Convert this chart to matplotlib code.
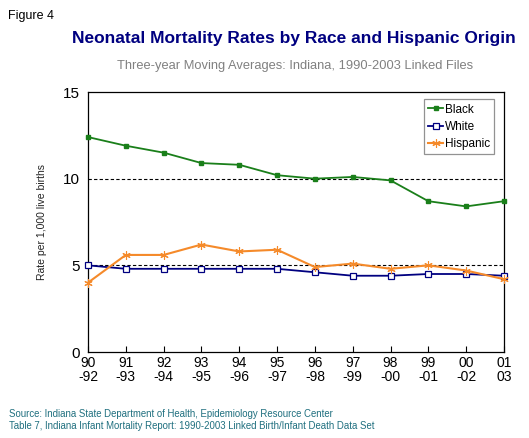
import matplotlib
matplotlib.use("Agg")
import matplotlib.pyplot as plt

# Three-year moving averages, neonatal mortality per 1,000 live births
periods = ["90\n-92", "91\n-93", "92\n-94", "93\n-95", "94\n-96", "95\n-97",
           "96\n-98", "97\n-99", "98\n-00", "99\n-01", "00\n-02", "01\n03"]
black = [12.4, 11.9, 11.5, 10.9, 10.8, 10.2, 10.0, 10.1, 9.9, 8.7, 8.4, 8.7]
white = [5.0, 4.8, 4.8, 4.8, 4.8, 4.8, 4.6, 4.4, 4.4, 4.5, 4.5, 4.4]
hispanic = [4.0, 5.6, 5.6, 6.2, 5.8, 5.9, 4.9, 5.1, 4.8, 5.0, 4.7, 4.2]
yticks = [0, 5, 10, 15]

plt.rcParams['font.family'] = ['Liberation Sans', 'DejaVu Sans']

fig = plt.figure(figsize=(5.29, 4.38), dpi=100)
ax = fig.add_axes([88 / 529, 86 / 438, 416 / 529, 260 / 438])

x = list(range(len(periods)))
ax.plot(x, black, color='#1a7f1a', lw=1.3, marker='s', ms=3.2,
        mfc='#1a7f1a', mec='#1a7f1a', label='Black', clip_on=False, zorder=3)
ax.plot(x, white, color='#000080', lw=1.3, marker='s', ms=4.5,
        mfc='white', mec='#000080', mew=0.9, label='White', clip_on=False, zorder=3)
ax.plot(x, hispanic, color='#f58a2a', lw=1.5, marker=(6, 2, 0), ms=6,
        mec='#f58a2a', mew=0.8, label='Hispanic', clip_on=False, zorder=3)

for g in [5, 10]:
    ax.axhline(g, color='black', lw=0.8, ls=(0, (3, 2)), zorder=1)

ax.set_xlim(0, len(periods) - 1)
ax.set_ylim(0, 15)
ax.set_yticks(yticks)
ax.set_yticklabels([str(v) for v in yticks], fontsize=11)
ax.set_xticks(x)
ax.set_xticklabels(periods, fontsize=10, linespacing=1.0)
ax.tick_params(axis='x', direction='in', length=4, width=0.8, pad=3)
ax.tick_params(axis='y', length=0, pad=6)
for s in ax.spines.values():
    s.set_linewidth(0.9)

ax.set_ylabel("Rate per 1,000 live births", fontsize=7.5, color='#222222', labelpad=11)

leg = ax.legend(loc='upper right', bbox_to_anchor=(0.985, 0.985), fontsize=8.5,
                frameon=True, fancybox=False, edgecolor='#777777',
                handlelength=1.2, handletextpad=0.2, borderpad=0.35,
                labelspacing=0.45, borderaxespad=0.3)
leg.get_frame().set_linewidth(0.9)

fig.text(8 / 529, 1 - 16 / 438, "Figure 4", fontsize=9, va='center', ha='left')
fig.text(294 / 529, 1 - 39 / 438, "Neonatal Mortality Rates by Race and Hispanic Origin",
         fontsize=12.5, fontweight='bold', color='#000080', va='center', ha='center')
fig.text(295 / 529, 1 - 66 / 438, "Three-year Moving Averages: Indiana, 1990-2003 Linked Files",
         fontsize=9.3, color='#808080', va='center', ha='center')
fig.text(9 / 529, 1 - 414 / 438,
         "Source: Indiana State Department of Health, Epidemiology Resource Center",
         fontsize=6.9, color='#1f6f7f', va='center', ha='left')
fig.text(9 / 529, 1 - 426 / 438,
         "Table 7, Indiana Infant Mortality Report: 1990-2003 Linked Birth/Infant Death Data Set",
         fontsize=6.9, color='#1f6f7f', va='center', ha='left')

fig.savefig("out.png", dpi=100)
